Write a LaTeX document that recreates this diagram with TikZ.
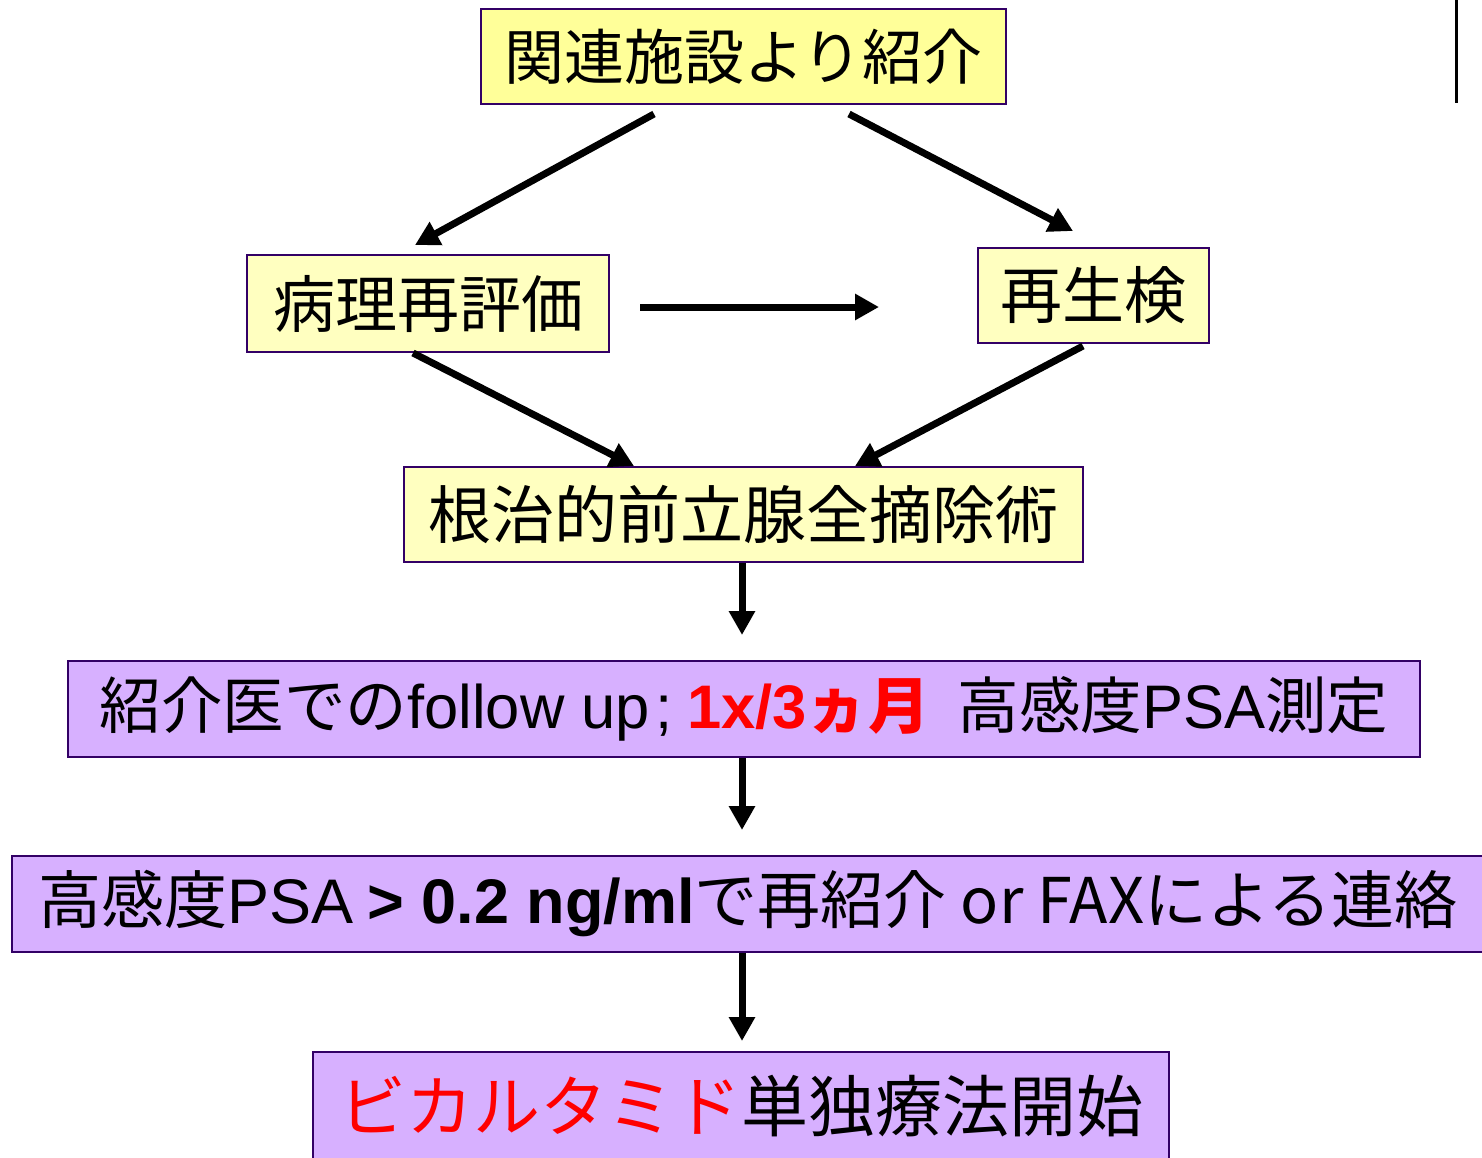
\documentclass[tikz,border=0pt]{standalone}
\usepackage{fontspec}
\setmainfont{Noto Sans CJK JP}
\newfontfamily\lat{Liberation Sans}
\usetikzlibrary{arrows.meta}
\definecolor{ylwA}{HTML}{FFFF99}
\definecolor{ylwB}{HTML}{FFFFC0}
\definecolor{lav}{HTML}{D7B0FF}
\definecolor{bord}{HTML}{330066}
\tikzset{
  box/.style={draw=bord, line width=2pt, inner sep=0pt, anchor=center, font=\fontsize{60}{72}\selectfont},
  boxA/.style={box, fill=ylwA},
  boxB/.style={box, fill=ylwB},
  boxL/.style={box, fill=lav},
  arr/.style={line width=7pt, -{Triangle[length=24pt,width=25pt]}},
}
\begin{document}
\begin{tikzpicture}[x=1pt,y=-1pt]
\useasboundingbox (0,0) rectangle (1482,1157);
\node[boxA, minimum width=525pt, minimum height=95pt] (top) at (743.5,56.5) {関連施設より紹介};
\node[boxB, minimum width=362pt, minimum height=97pt, font=\fontsize{62}{72}\selectfont] (path) at (428,303.5) {病理再評価};
\node[boxB, minimum width=231pt, minimum height=95pt, font=\fontsize{62}{72}\selectfont] (rebio) at (1093.5,295.5) {再生検};
\node[boxB, minimum width=679pt, minimum height=95pt, font=\fontsize{63}{72}\selectfont] (surg) at (743.5,514.5) {根治的前立腺全摘除術};
\node[boxL, minimum width=1352pt, minimum height=96pt, font=\fontsize{61.5}{72}\selectfont] (follow) at (744,709) {紹介医での{\lat follow up\hspace{6pt};\hspace{14pt}}\textcolor{red}{\bfseries{\lat 1x/3}ヵ月}\hspace{28pt}高感度{\lat PSA}測定};
\node[boxL, minimum width=1472pt, minimum height=96pt, font=\fontsize{63}{72}\selectfont] (psa) at (748,904) {高感度{\lat PSA} {\lat\bfseries > 0.2 ng/ml}で再紹介 or FAXによる連絡};
\node[boxL, minimum width=856pt, minimum height=108pt, font=\fontsize{67}{80}\selectfont] (bottom) at (741,1106) {\textcolor{red}{ビカルタミド}単独療法開始};
\draw[arr] ([xshift=-89.5pt,yshift=-9pt]top.south) -- ([xshift=-13pt,yshift=9pt]path.north);
\draw[arr] ([xshift=105.5pt,yshift=-9pt]top.south) -- ([xshift=-20.5pt,yshift=16pt]rebio.north);
\draw[arr] ([xshift=30pt,yshift=-3.5pt]path.east) -- ([xshift=-98pt,yshift=-11.5pt]rebio.west);
\draw[arr] ([xshift=-15pt]path.south) -- ([xshift=-109.5pt]surg.north);
\draw[arr] ([xshift=-10.5pt,yshift=-2pt]rebio.south) -- ([xshift=111.5pt]surg.north);
\draw[arr] ([xshift=-1.5pt]surg.south) -- ([xshift=-2pt,yshift=25pt]follow.north);
\draw[arr] ([xshift=-2pt]follow.south) -- ([xshift=-6pt,yshift=25pt]psa.north);
\draw[arr] ([xshift=-6pt]psa.south) -- ([xshift=1pt,yshift=10pt]bottom.north);
\coordinate (barT) at (1456,0);
\coordinate (barB) at (1456,103);
\draw[line width=3pt] (barT) -- (barB);
\end{tikzpicture}
\end{document}
